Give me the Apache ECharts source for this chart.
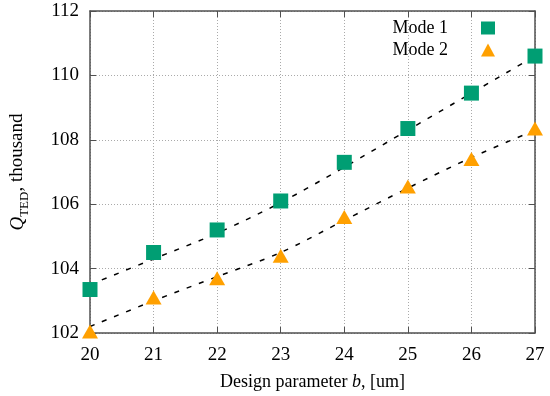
<!DOCTYPE html>
<html><head><meta charset="utf-8">
<script src="https://cdn.jsdelivr.net/npm/echarts@6/dist/echarts.min.js"></script>
<style>html,body{margin:0;padding:0;background:#fff}#c{width:550px;height:396px}</style>
</head><body><div id="c"></div>
<script>
const xValues = [20, 21, 22, 23, 24, 25, 26, 27];
const mode1 = [103.35, 104.5, 105.2, 106.1, 107.3, 108.35, 109.45, 110.6];
const mode2 = [102.05, 103.1, 103.7, 104.4, 105.6, 106.55, 107.4, 108.35];
const fit1 = [103.5, 104.3, 105.1, 106.05, 107.15, 108.3, 109.45, 110.6];
const fit2 = [102.2, 103.0, 103.75, 104.5, 105.5, 106.5, 107.45, 108.3];
const seriesNames = ['Mode 1', 'Mode 2'];
const xTitle = 'Design parameter ';
const yTitleUnit = ', thousand';

const FONT = 'Liberation Serif';
const GREEN = '#009e73';
const ORANGE = '#ffa000';
const AX = '#505050';

const pairs = (xs, ys) => xs.map((x, i) => [x, ys[i]]);

const chart = echarts.init(document.getElementById('c'), null, {renderer: 'canvas'});
const axisCommon = {
  axisLine: {show: true, lineStyle: {color: AX, width: 1.5}},
  axisTick: {show: true, inside: true, length: 6, lineStyle: {color: AX, width: 1}},
};
chart.setOption({
  animation: false,
  backgroundColor: '#fff',
  grid: {left: 89, right: 15, top: 11, bottom: 63, show: false},
  legend: {
    orient: 'vertical', right: 50, top: 14, align: 'right', itemGap: 4,
    itemWidth: 14, itemHeight: 13,
    textStyle: {fontFamily: FONT, fontSize: 18, color: '#000', padding: [0, 28, 0, 0]},
    data: [{name: seriesNames[0], icon: 'rect'}, {name: seriesNames[1], icon: 'triangle'}]
  },
  xAxis: [
    Object.assign({
      type: 'value', min: 20, max: 27, interval: 1, position: 'bottom',
      axisLabel: {fontFamily: FONT, fontSize: 19, color: '#000', margin: 13},
      splitLine: {show: true, lineStyle: {color: '#aaa', type: [1, 2], width: 1}},
      name: '{t|' + xTitle + '}{b|b}{t|, [um]}', nameLocation: 'middle', nameGap: 40,
      nameTextStyle: {rich: {t: {fontFamily: FONT, fontSize: 18, color: '#000'}, b: {fontFamily: FONT, fontSize: 18, fontStyle: 'italic', color: '#000'}}}
    }, axisCommon),
    Object.assign({
      type: 'value', min: 20, max: 27, interval: 1, position: 'top',
      axisLabel: {show: false}, splitLine: {show: false}
    }, axisCommon)
  ],
  yAxis: [
    Object.assign({
      type: 'value', min: 102, max: 112, interval: 2, position: 'left',
      axisLabel: {fontFamily: FONT, fontSize: 19, color: '#000', margin: 11},
      splitLine: {show: true, lineStyle: {color: '#aaa', type: [1, 2], width: 1}},
      name: '{q|Q}{s|TED}{t|' + yTitleUnit + '}', nameLocation: 'middle', nameGap: 63, nameRotate: 90,
      nameTextStyle: {rich: {
        q: {fontFamily: FONT, fontSize: 19, fontStyle: 'italic', color: '#000', lineHeight: 19, verticalAlign: 'top'},
        s: {fontFamily: FONT, fontSize: 13, color: '#000', lineHeight: 13, verticalAlign: 'top', padding: [10, 0, 0, 0]},
        t: {fontFamily: FONT, fontSize: 19, color: '#000', lineHeight: 19, verticalAlign: 'top'}
      }}
    }, axisCommon),
    Object.assign({
      type: 'value', min: 102, max: 112, interval: 2, position: 'right',
      axisLabel: {show: false}, splitLine: {show: false}
    }, axisCommon)
  ],
  series: [
    {type: 'line', data: pairs(xValues, fit1), showSymbol: false, smooth: 0.3, silent: true,
     lineStyle: {color: '#000', width: 1.5, type: [5, 8]}, z: 2},
    {type: 'line', data: pairs(xValues, fit2), showSymbol: false, smooth: 0.3, silent: true,
     lineStyle: {color: '#000', width: 1.5, type: [5, 8]}, z: 2},
    {name: seriesNames[0], type: 'scatter', data: pairs(xValues, mode1), symbol: 'rect', symbolSize: 15,
     itemStyle: {color: GREEN, opacity: 1}, clip: false, z: 3},
    {name: seriesNames[1], type: 'scatter', data: pairs(xValues, mode2), symbol: 'triangle', symbolSize: [16, 14],
     itemStyle: {color: ORANGE, opacity: 1}, clip: false, z: 3}
  ]
});
</script></body></html>
